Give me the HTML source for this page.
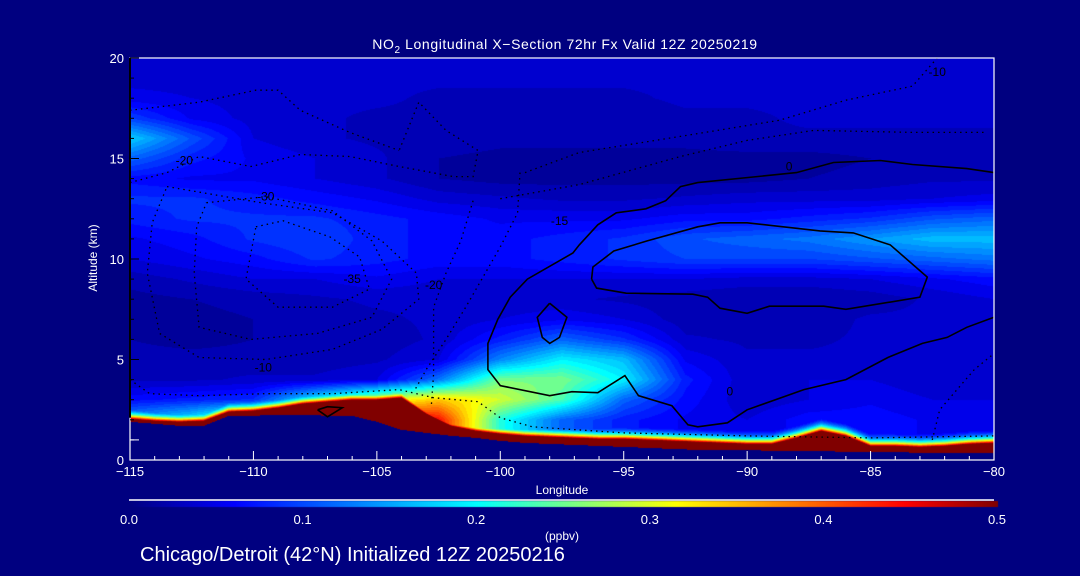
<!DOCTYPE html>
<html><head><meta charset="utf-8">
<style>
html,body{margin:0;padding:0;background:#000080;}
#wrap{position:relative;width:1080px;height:576px;background:#000080;overflow:hidden;font-family:"Liberation Sans",sans-serif;color:#fff;}
canvas{position:absolute;left:0;top:0;}
svg{position:absolute;left:0;top:0;}
</style></head>
<body>
<div id="wrap">
<canvas id="cv" width="1080" height="576"></canvas>
<svg id="sv" width="1080" height="576"></svg>
</div>
<script>
// ---- data ----
const lonCols=[-115,-112.5,-110,-107.5,-105,-102.5,-100,-97.5,-95,-92.5,-90,-87.5,-85,-82.5,-80];
const altRows=[2,3,4,5,6,7,8,9,10,11,12,13,14,15,16,17,18,19,20];
const no2_2km=[0.15,0.2,0.3,0.45,0.5,0.45,0.22,0.12,0.08,0.06,0.05,0.07,0.07,0.06,0.06];
const no2_3km=[0.07,0.08,0.09,0.2,0.3,0.35,0.3,0.24,0.12,0.07,0.04,0.05,0.06,0.05,0.05];
const no2_4km=[0.035,0.035,0.04,0.04,0.05,0.13,0.26,0.26,0.2,0.08,0.04,0.05,0.05,0.04,0.04];
const no2_5km=[0.03,0.03,0.03,0.03,0.035,0.05,0.14,0.2,0.17,0.06,0.04,0.04,0.04,0.04,0.04];
const no2_6km=[0.025,0.02,0.025,0.03,0.03,0.04,0.08,0.12,0.09,0.04,0.035,0.035,0.04,0.04,0.04];
const no2_7km=[0.02,0.02,0.025,0.03,0.035,0.04,0.05,0.06,0.05,0.03,0.03,0.03,0.04,0.04,0.045];
const no2_8km=[0.02,0.025,0.03,0.035,0.04,0.04,0.04,0.04,0.035,0.03,0.025,0.025,0.03,0.04,0.05];
const no2_9km=[0.03,0.04,0.05,0.05,0.06,0.05,0.05,0.05,0.05,0.05,0.045,0.045,0.05,0.06,0.07];
const no2_10km=[0.05,0.06,0.07,0.09,0.08,0.07,0.07,0.08,0.09,0.1,0.1,0.1,0.11,0.12,0.13];
const no2_11km=[0.06,0.07,0.09,0.1,0.08,0.07,0.07,0.08,0.09,0.11,0.12,0.13,0.15,0.17,0.17];
const no2_12km=[0.08,0.09,0.09,0.09,0.08,0.07,0.06,0.06,0.06,0.07,0.07,0.08,0.09,0.11,0.12];
const no2_13km=[0.09,0.09,0.08,0.07,0.06,0.045,0.04,0.035,0.035,0.04,0.045,0.045,0.045,0.05,0.055];
const no2_14km=[0.07,0.06,0.06,0.05,0.04,0.025,0.02,0.02,0.02,0.02,0.02,0.025,0.03,0.035,0.035];
const no2_15km=[0.12,0.08,0.06,0.05,0.04,0.025,0.02,0.02,0.02,0.02,0.02,0.02,0.025,0.03,0.03];
const no2_16km=[0.18,0.11,0.05,0.04,0.035,0.035,0.03,0.03,0.03,0.03,0.035,0.035,0.035,0.035,0.035];
const no2_17km=[0.1,0.06,0.045,0.04,0.035,0.035,0.03,0.03,0.03,0.035,0.035,0.04,0.04,0.04,0.04];
const no2_18km=[0.055,0.05,0.045,0.04,0.04,0.035,0.035,0.035,0.035,0.04,0.04,0.04,0.04,0.04,0.04];
const no2_19km=[0.045,0.045,0.045,0.045,0.04,0.04,0.04,0.04,0.04,0.04,0.04,0.04,0.04,0.04,0.04];
const no2_20km=[0.045,0.045,0.045,0.045,0.04,0.04,0.04,0.04,0.04,0.04,0.04,0.04,0.04,0.04,0.04];
const terrainLon=[-115,-114,-113,-112,-111,-110,-109,-108,-107,-106,-105,-104,-103,-102,-101,-100,-99,-98,-97,-96,-95,-94,-93,-92,-91,-90,-89,-88,-87,-86,-85,-84,-83,-82,-81,-80];
const terrainKm=[1.9,1.8,1.7,1.7,2.2,2.2,2.25,2.25,2.2,2.2,1.9,1.5,1.35,1.2,1.1,0.95,0.85,0.8,0.75,0.7,0.65,0.6,0.55,0.5,0.5,0.5,0.45,0.45,0.45,0.4,0.4,0.4,0.35,0.35,0.35,0.35];
const pblTopKm=[2.05,1.95,1.9,1.95,2.4,2.45,2.6,2.8,2.9,3.0,3.0,3.1,2.3,1.7,1.45,1.3,1.2,1.15,1.1,1.05,1.05,1.0,0.95,0.9,0.85,0.8,0.8,1.1,1.45,1.2,0.7,0.7,0.65,0.7,0.8,0.85];
const xTicks=[-115,-110,-105,-100,-95,-90,-85,-80];
const yTicks=[0,5,10,15,20];
const cbTicks=[0.0,0.1,0.2,0.3,0.4,0.5];
// contour lines [lon,alt]
const zeroOuter=[[-80,14.3],[-81.1,14.5],[-83.3,14.7],[-84.6,14.9],[-86.5,14.8],[-88,14.3],[-92,13.8],[-92.7,13.6],[-93.3,12.9],[-94.1,12.5],[-95.3,12.3],[-96.05,11.7],[-96.8,10.7],[-97.06,10.3],[-98.9,9.0],[-99.6,8.1],[-100.1,7.0],[-100.5,5.8],[-100.5,4.5],[-100,3.7],[-98,3.2],[-97.1,3.4],[-96.05,3.35],[-94.95,4.2],[-94.4,3.2],[-93.05,2.7],[-92.4,1.75],[-92,1.65],[-90.8,1.85],[-90,2.5],[-87.7,3.5],[-86,4.0],[-84.3,5.1],[-82.9,5.8],[-81.9,6.1],[-81.1,6.6],[-80,7.1]];
const zeroInner=[[-96.3,9.0],[-96.25,9.6],[-95.4,10.4],[-94.05,10.9],[-92,11.6],[-91.1,11.8],[-90,11.8],[-87.05,11.4],[-85.7,11.3],[-84.2,10.7],[-82.7,9.1],[-83,8.1],[-86,7.5],[-86.9,7.65],[-89.1,7.65],[-90,7.3],[-91.1,7.55],[-91.6,8.1],[-92.2,8.25],[-94.9,8.3],[-96.1,8.55],[-96.3,9.0]];
const zeroPent=[[-98,7.8],[-97.3,7.1],[-97.6,6.1],[-98,5.8],[-98.3,6.1],[-98.5,7.1],[-98,7.8]];
const zeroDiamond=[[-107.4,2.5],[-107,2.65],[-106.4,2.6],[-107,2.15],[-107.4,2.5]];
const dotA=[[-115,13.8],[-113.5,14.3],[-112.2,15.1],[-110.1,14.6],[-108.1,15.2],[-106.1,15.1],[-104.1,14.6],[-101.9,14.1],[-101.1,14.1],[-100.9,15.4],[-102.2,16.4],[-103.3,17.8],[-104.1,15.4]];
const dotB=[[-115,17.4],[-112.2,17.8],[-109.9,18.4],[-109,18.4],[-108.1,17.4],[-106.1,16.3],[-104.1,15.4]];
const dotC=[[-99,14.3],[-96.8,15.3],[-92.7,16.1],[-88.7,16.9],[-86,17.9],[-83.3,18.6],[-82.3,20]];
const dotD=[[-100,13],[-96.8,13.7],[-92.7,15.1],[-90,15.9],[-87.3,16.4],[-83.3,16.3],[-80.3,16.3]];
const dotE=[[-113.5,13.6],[-109.7,12.8],[-106.8,12.3],[-104.8,10.9],[-103.4,9.3],[-103.3,8.0],[-104.8,6.5],[-106.8,5.5],[-109.5,5.0],[-112.2,5.1],[-113.8,6.3],[-114.3,9.3],[-114.1,11.8],[-113.5,13.6]];
const dotF=[[-111.9,12.8],[-109.5,13.1],[-106.8,12.4],[-105.2,10.9],[-104.4,9.0],[-105.2,7.1],[-107.4,6.3],[-110.1,6.0],[-112.2,6.6],[-112.4,9.3],[-112.3,11.6],[-111.9,12.8]];
const dotG=[[-109.9,11.6],[-108.8,11.9],[-106.9,11.1],[-105.7,10.1],[-105.3,8.5],[-106.8,7.6],[-109,7.6],[-110.3,9.0],[-109.9,11.6]];
const dotH=[[-115,4.0],[-114.2,3.3],[-112.2,3.2],[-109.5,3.3],[-106.8,3.3],[-104.1,3.5],[-102.7,3.1],[-100.9,2.9],[-100,2.1],[-98.7,1.65],[-95,1.35],[-90,1.2],[-85,1.1],[-80,1.2]];
const dotI=[[-101.1,12.9],[-101.6,10.9],[-102.2,9.3],[-102.7,7.6],[-102.7,4.3],[-102.8,2.6]];
const dotJ=[[-99.2,14.3],[-99.3,12.3],[-100,10.6],[-101.4,7.6],[-102.2,6.0],[-103,4.5],[-103.5,3.4]];
const dotK=[[-82.5,1.0],[-82.2,2.5],[-81.5,3.5],[-80.8,4.5],[-80,5.3]];
const contourLabels=[["-20",-112.8,14.7],["-30",-109.5,12.9],["-35",-106,8.8],["-20",-102.7,8.5],["-10",-109.6,4.4],["-15",-97.6,11.7],["0",-88.3,14.4],["0",-90.7,3.2],["-10",-82.3,19.1]];
const grid=[no2_2km,no2_3km,no2_4km,no2_5km,no2_6km,no2_7km,no2_8km,no2_9km,no2_10km,no2_11km,no2_12km,no2_13km,no2_14km,no2_15km,no2_16km,no2_17km,no2_18km,no2_19km,no2_20km];

// ---- axes ----
const X0=130,X1=994,Y0=460,Y1=58;
const xs=lon=>X0+(lon+115)/35*(X1-X0);
const ys=alt=>Y0-alt/20*(Y0-Y1);
const CB0=129,CB1=997;
const cbx=v=>CB0+v/0.5*(CB1-CB0);

// ---- colormap ----
const stops=[[0,0,0,128],[0.06,0,0,255],[0.2,0,255,255],[0.315,255,255,0],[0.447,255,0,0],[0.5,128,0,0]];
function cmap(v){v=Math.max(0,Math.min(0.5,v));
 for(let i=1;i<stops.length;i++){if(v<=stops[i][0]){const a=stops[i-1],b=stops[i];const t=(v-a[0])/(b[0]-a[0]);
  return [a[1]+(b[1]-a[1])*t,a[2]+(b[2]-a[2])*t,a[3]+(b[3]-a[3])*t];}}
 return [128,0,0];}
function interp1(xsA,ysA,x){if(x<=xsA[0])return ysA[0];for(let i=1;i<xsA.length;i++){if(x<=xsA[i]){const t=(x-xsA[i-1])/(xsA[i]-xsA[i-1]);return ysA[i-1]+(ysA[i]-ysA[i-1])*t;}}return ysA[ysA.length-1];}
function gridVal(lon,alt){
 let a=Math.max(altRows[0],Math.min(20,alt));
 let r=0;while(r<altRows.length-2&&a>altRows[r+1])r++;
 const tr=(a-altRows[r])/(altRows[r+1]-altRows[r]);
 const v0=interp1(lonCols,grid[r],lon),v1=interp1(lonCols,grid[r+1],lon);
 return v0+(v1-v0)*tr;}

const cv=document.getElementById('cv');const ctx=cv.getContext('2d');
ctx.fillStyle='#000080';ctx.fillRect(0,0,1080,576);
const W=X1-X0,H=Y0-Y1;
const img=ctx.createImageData(W,H);
for(let py=0;py<H;py++){const alt=(Y0-(Y1+py+0.5))/(Y0-Y1)*20;
 for(let px=0;px<W;px++){const lon=-115+(px+0.5)/W*35;
  const ter=interp1(terrainLon,terrainKm,lon),pbl=interp1(terrainLon,pblTopKm,lon);
  let c;
  if(alt<ter){c=[0,0,128];}
  else{let v;if(alt<pbl)v=0.5;else{const d=alt-pbl;v=Math.max(gridVal(lon,alt),0.5*Math.exp(-d/0.3));}
   v=Math.floor(v/0.0125)*0.0125;c=cmap(v);}
  const k=(py*W+px)*4;img.data[k]=c[0];img.data[k+1]=c[1];img.data[k+2]=c[2];img.data[k+3]=255;}}
ctx.putImageData(img,X0,Y1);
// colorbar gradient
for(let px=CB0;px<=CB1;px++){const c=cmap((px-CB0)/(CB1-CB0)*0.5);ctx.fillStyle=`rgb(${c[0]|0},${c[1]|0},${c[2]|0})`;ctx.fillRect(px,501,1,6);}

// ---- svg overlay ----
const NS='http://www.w3.org/2000/svg';const sv=document.getElementById('sv');
function mk(tag,attrs,parent){const e=document.createElementNS(NS,tag);for(const k in attrs)e.setAttribute(k,attrs[k]);(parent||sv).appendChild(e);return e;}
function pts(arr){return arr.map(p=>xs(p[0]).toFixed(1)+','+ys(p[1]).toFixed(1)).join(' ');}
function line(arr,name,dotted){const e=mk('polyline',{points:pts(arr),fill:'none',stroke:'#000','stroke-width':dotted?1.3:1.6,'stroke-dasharray':dotted?'1.5 4':'none'});
 
 }
line(zeroOuter,'zero-contour-outer',false);
line(zeroInner,'zero-contour-inner',false);
line(zeroPent,'zero-contour-small',false);
line(zeroDiamond,'zero-contour-diamond',false);
[dotA,dotB,dotC,dotD,dotE,dotF,dotG,dotH,dotI,dotJ,dotK].forEach((d,i)=>line(d,'negative-contour-'+(i+1),true));
contourLabels.forEach(l=>{const t=mk('text',{x:xs(l[1]),y:ys(l[2]),'font-size':12,fill:'#000','font-family':'Liberation Sans, sans-serif','text-anchor':'middle'});t.textContent=l[0];
 
 });
// frame
const fr=mk('rect',{x:X0,y:Y1,width:X1-X0,height:Y0-Y1,fill:'none',stroke:'#fff','stroke-width':1.2});


const la=mk('line',{x1:X0,y1:Y1,x2:X0,y2:ys(2.1),stroke:'#000','stroke-width':2});


// x ticks
for(let lon=-115;lon<=-80;lon++){const major=lon%5===0;const tk=mk('line',{x1:xs(lon),x2:xs(lon),y1:Y0,y2:Y0-(major?9:4),stroke:'#fff','stroke-width':1});
 
 }
xTicks.forEach(v=>{const t=mk('text',{x:xs(v),y:476,'font-size':13,fill:'#fff','text-anchor':'middle','font-family':'Liberation Sans, sans-serif'});t.textContent=(v<0?'\u2212':'')+Math.abs(v);
 
 });
for(let a=0;a<=20;a++){const major=a%5===0;const tk=mk('line',{x1:X0,x2:X0+(major?9:4),y1:ys(a),y2:ys(a),stroke:a<2?'#fff':'#000','stroke-width':1});
 
 }
const ytk1=mk('line',{x1:X0,x2:X0+9,y1:ys(1),y2:ys(1),stroke:'#fff'});


yTicks.forEach(v=>{const t=mk('text',{x:124,y:ys(v)+5,'font-size':13,fill:'#fff','text-anchor':'end','font-family':'Liberation Sans, sans-serif'});t.textContent=v;
 
 });
// titles
const ti=mk('text',{x:565,y:49,'font-size':14,fill:'#fff','text-anchor':'middle','font-family':'Liberation Sans, sans-serif','letter-spacing':'0.6'});
ti.innerHTML='NO<tspan font-size="10" dy="4">2</tspan><tspan dy="-4"> Longitudinal X\u2212Section 72hr  Fx Valid 12Z 20250219</tspan>';


const yl=mk('text',{x:0,y:0,'font-size':12,fill:'#fff','text-anchor':'middle','font-family':'Liberation Sans, sans-serif',transform:'translate(97,258) rotate(-90)'});yl.textContent='Altitude (km)';


const xl=mk('text',{x:562,y:494,'font-size':12,fill:'#fff','text-anchor':'middle','font-family':'Liberation Sans, sans-serif'});xl.textContent='Longitude';


const cbl=mk('line',{x1:CB0,x2:CB1-3,y1:500,y2:500,stroke:'#fff','stroke-width':1.5});


cbTicks.forEach(v=>{const t=mk('text',{x:cbx(v),y:524,'font-size':13,fill:'#fff','text-anchor':'middle','font-family':'Liberation Sans, sans-serif'});t.textContent=v.toFixed(1);
 
 });
const un=mk('text',{x:562,y:540,'font-size':12,fill:'#fff','text-anchor':'middle','font-family':'Liberation Sans, sans-serif'});un.textContent='(ppbv)';


const ft=mk('text',{x:140,y:561,'font-size':20,fill:'#fff','font-family':'Liberation Sans, sans-serif'});ft.textContent='Chicago/Detroit (42\u00b0N) Initialized 12Z 20250216';


</script>
</body></html>
